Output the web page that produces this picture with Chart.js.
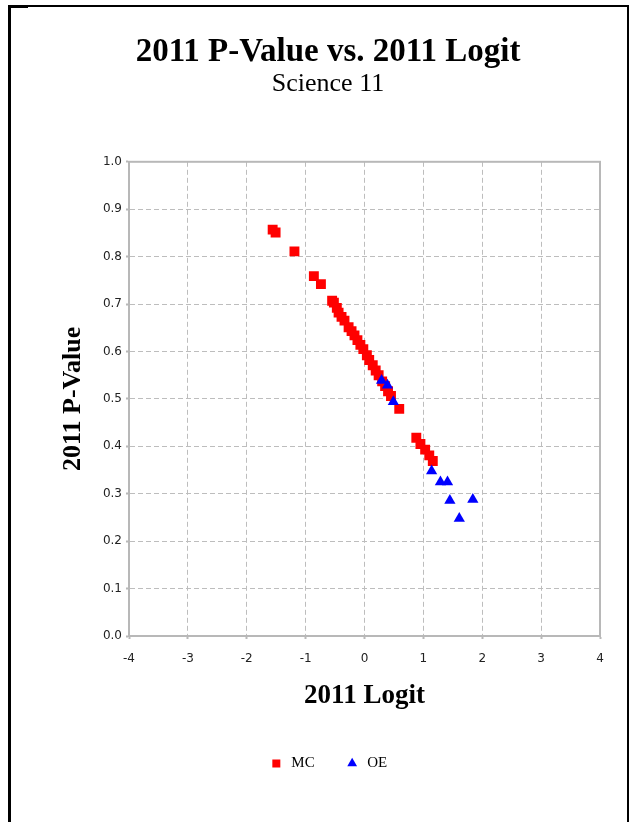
<!DOCTYPE html>
<html lang="en">
<head>
  <meta charset="UTF-8">
  <title>2011 P-Value vs. 2011 Logit</title>
  <script src="https://cdn.jsdelivr.net/npm/chart.js"></script>
  <style>
    body { margin: 0; background: #fff; }
    #wrap { position: relative; width: 634px; height: 822px; overflow: hidden; }
    #frame { position: absolute; left: 8px; top: 5px; width: 621px; height: 900px;
             box-sizing: border-box; border: 2px solid #000; border-left-width: 3px; }
    #frameTip { position: absolute; left: 8px; top: 5px; width: 20px; height: 3px; background: #000; }
    canvas { position: absolute; left: 0; top: 0; }
  </style>
</head>
<body>
  <div id="wrap">
    <div id="frame"></div>
    <div id="frameTip"></div>
    <canvas id="scatter" width="634" height="822"></canvas>
  </div>

  <script>
    // multiple-choice items
    const mcLogit  = [-1.56, -1.51, -1.19, -0.86, -0.74, -0.55, -0.52, -0.47, -0.44, -0.39,
                      -0.34, -0.27, -0.22, -0.17, -0.12, -0.07, -0.02, 0.04, 0.08, 0.14,
                      0.19, 0.24, 0.30, 0.35, 0.40, 0.45, 0.59, 0.88, 0.95, 1.03, 1.10, 1.16];
    const mcPValue = [0.857, 0.851, 0.811, 0.759, 0.742, 0.707, 0.703, 0.692, 0.682, 0.673,
                      0.665, 0.651, 0.643, 0.634, 0.624, 0.614, 0.605, 0.592, 0.582, 0.571,
                      0.560, 0.550, 0.537, 0.527, 0.516, 0.506, 0.479, 0.418, 0.405, 0.393, 0.381, 0.369];
    // open-ended items
    const oeLogit  = [0.29, 0.39, 0.49, 1.14, 1.29, 1.41, 1.45, 1.61, 1.84];
    const oePValue = [0.539, 0.529, 0.494, 0.348, 0.325, 0.325, 0.286, 0.248, 0.288];

    const xTicks = [-4, -3, -2, -1, 0, 1, 2, 3, 4];
    const yTicks = [0.0, 0.1, 0.2, 0.3, 0.4, 0.5, 0.6, 0.7, 0.8, 0.9, 1.0];

    const toPoints = (xs, ys) => xs.map((x, i) => ({ x: x, y: ys[i] }));

    const serif = "'Liberation Serif', 'Times New Roman', serif";
    const boxGray = '#b8b8b8';
    const gridStyle = {
      color: '#bdbdbd',
      lineWidth: 1,
      drawTicks: true,
      tickLength: 3,
      tickColor: boxGray,
      tickWidth: 2,
      tickBorderDash: []
    };
    const borderStyle = { display: true, color: boxGray, width: 2, dash: [5, 3] };

    // solid gray box round the plot area
    const plotBox = {
      id: 'plotBox',
      beforeDatasetsDraw(chart) {
        const { ctx, chartArea: a } = chart;
        ctx.save();
        ctx.strokeStyle = boxGray;
        ctx.lineWidth = 2;
        ctx.setLineDash([]);
        ctx.strokeRect(a.left, a.top, a.right - a.left, a.bottom - a.top);
        ctx.restore();
      }
    };

    new Chart(document.getElementById('scatter').getContext('2d'), {
      type: 'scatter',
      data: {
        datasets: [
          {
            label: 'MC',
            data: toPoints(mcLogit, mcPValue),
            pointStyle: 'rect',
            pointRadius: 7,
            pointHoverRadius: 7,
            backgroundColor: '#ff0000',
            borderColor: '#ff0000',
            borderWidth: 0,
            order: 1
          },
          {
            label: 'OE',
            data: toPoints(oeLogit, oePValue),
            pointStyle: 'triangle',
            pointRadius: 6.5,
            pointHoverRadius: 6.5,
            backgroundColor: '#0000ff',
            borderColor: '#0000ff',
            borderWidth: 0,
            order: 0
          }
        ]
      },
      plugins: [plotBox],
      options: {
        responsive: false,
        animation: false,
        devicePixelRatio: 1,
        layout: { padding: { left: 56, right: 34, top: 0, bottom: 41 } },
        plugins: {
          title: {
            display: true,
            text: '2011 P-Value vs. 2011 Logit',
            color: '#000',
            font: { family: serif, size: 33, weight: 'bold' },
            padding: { top: 33, bottom: -4 }
          },
          subtitle: {
            display: true,
            text: 'Science 11',
            color: '#000',
            font: { family: serif, size: 26, weight: 'normal' },
            padding: { top: 0, bottom: 62 }
          },
          legend: {
            position: 'bottom',
            labels: {
              usePointStyle: true,
              boxWidth: 15,
              boxHeight: 8,
              padding: 30,
              color: '#000',
              font: { family: serif, size: 15 },
              sort: (a, b) => a.datasetIndex - b.datasetIndex
            }
          },
          tooltip: { enabled: false }
        },
        scales: {
          x: {
            type: 'linear',
            min: -4,
            max: 4,
            afterBuildTicks: axis => { axis.ticks = xTicks.map(v => ({ value: v })); },
            afterFit: axis => { axis.height = 90; },
            grid: gridStyle,
            border: borderStyle,
            ticks: {
              color: '#222',
              padding: 13,
              font: { family: "'DejaVu Sans', sans-serif", size: 12 },
              callback: v => String(v)
            },
            title: {
              display: true,
              text: '2011 Logit',
              color: '#000',
              font: { family: serif, size: 27, weight: 'bold' },
              padding: { top: 0, bottom: 14 }
            }
          },
          y: {
            type: 'linear',
            min: 0,
            max: 1,
            afterBuildTicks: axis => { axis.ticks = yTicks.map(v => ({ value: v })); },
            afterFit: axis => { axis.width = 73; },
            grid: gridStyle,
            border: borderStyle,
            ticks: {
              color: '#222',
              padding: 4,
              font: { family: "'DejaVu Sans', sans-serif", size: 12 },
              callback: v => v.toFixed(1)
            },
            title: {
              display: true,
              text: '2011 P-Value',
              color: '#000',
              font: { family: serif, size: 26, weight: 'bold' },
              padding: { top: 2, bottom: 0 }
            }
          }
        }
      }
    });
  </script>
</body>
</html>
